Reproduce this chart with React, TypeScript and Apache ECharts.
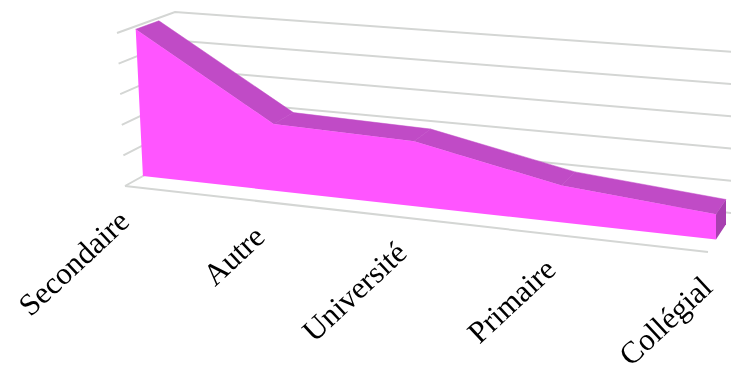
import React, { useEffect, useRef } from "react";
import * as echarts from "echarts";

const categories = ["Secondaire", "Autre", "Université", "Primaire", "Collégial"];
const values = [49, 21.7, 20.5, 11.3, 7.5];
const gridValues = [0, 10, 20, 30, 40, 50];

const CORNERS = {
  fb0: [125, 186], ft0: [117, 33], bb0: [181, 155], bt0: [175, 12],
  fb1: [708, 252], ft1: [708, 80], bb1: [733, 213.3], bt1: [733, 52],
};
const lerp = (a: number, b: number, t: number) => a + (b - a) * t;
const warp = (t: number) => (0.908 * t) / (1 - 0.092 * t);
function project(t: number, v: number, d: number): number[] {
  const u = warp(t);
  const c = CORNERS;
  return [0, 1].map((k) => {
    const f0 = lerp(c.fb0[k], c.ft0[k], v);
    const b0 = lerp(c.bb0[k], c.bt0[k], v);
    const f1 = lerp(c.fb1[k], c.ft1[k], v);
    const b1 = lerp(c.bb1[k], c.bt1[k], v);
    return lerp(lerp(f0, b0, d), lerp(f1, b1, d), u);
  });
}
const D_FRONT = 0.32;
const D_BACK = 0.72;
const GRID_COLOR = "#d4d6d4";

function toPlane(params: any, pt: number[]) {
  const cs = params.coordSys;
  return [(pt[0] - cs.x) / cs.width, 1 - (pt[1] - cs.y) / cs.height];
}

export default function App() {
  const ref = useRef<HTMLDivElement>(null);
  useEffect(() => {
    const chart = echarts.init(ref.current!, undefined, { renderer: "svg" });
    chart.setOption({
      animation: false,
      grid: { left: 100, right: 100, top: 50, bottom: 50 },
      xAxis: { type: "category", data: categories, boundaryGap: false, show: false },
      yAxis: { type: "value", min: 0, max: 50, interval: 10, show: false },
      series: [
        {
          type: "custom",
          silent: true,
          data: gridValues.map((g) => [0, g]),
          renderItem: (params: any, api: any) => {
            const [, v] = toPlane(params, api.coord([0, api.value(1)]));
            const isFloor = v < 0.001;
            const pts = [project(0, v, 0), project(0, v, 1), project(1, v, 1)];
            const children: any[] = [
              { type: "polyline", shape: { points: pts }, style: { stroke: GRID_COLOR, lineWidth: 2, fill: "none" } },
            ];
            if (isFloor) {
              children.push({
                type: "polyline",
                shape: { points: [project(0, 0, 0), project(1, 0, 0)] },
                style: { stroke: GRID_COLOR, lineWidth: 2, fill: "none" },
              });
            }
            return { type: "group", children };
          },
        },
        {
          type: "custom",
          silent: true,
          data: values.map((val, i) => [i, val]),
          renderItem: (params: any, api: any) => {
            const i = api.value(0);
            const children: any[] = [];
            const [t0, v0] = toPlane(params, api.coord([i, api.value(1)]));
            if (i < values.length - 1) {
              const [t1, v1] = toPlane(params, api.coord([i + 1, values[i + 1]]));
              children.push({
                type: "polygon",
                shape: { points: [project(t0, v0, D_FRONT), project(t0, v0, D_BACK), project(t1, v1, D_BACK), project(t1, v1, D_FRONT)] },
                style: { fill: "#c04bc6", stroke: "#c04bc6", lineWidth: 0.5 },
              });
            } else {
              const tops = values.map((val, k) => {
                const [t, v] = toPlane(params, api.coord([k, val]));
                return project(t, v, D_FRONT);
              });
              const [tFirst] = toPlane(params, api.coord([0, 0]));
              children.push({
                type: "polygon",
                shape: { points: [project(tFirst, 0, D_FRONT), ...tops, project(t0, 0, D_FRONT)] },
                style: { fill: "#ff55ff" },
              });
              children.push({
                type: "polygon",
                shape: { points: [project(t0, 0, D_FRONT), project(t0, v0, D_FRONT), project(t0, v0, D_BACK), project(t0, 0, D_BACK)] },
                style: { fill: "#a83fb0" },
              });
            }
            return { type: "group", children };
          },
        },
        {
          type: "custom",
          silent: true,
          data: categories.map((_, i) => [i, 0]),
          renderItem: (params: any, api: any) => {
            const i = api.value(0);
            const [t] = toPlane(params, api.coord([i, 0]));
            const p = project(t, 0, 0);
            return {
              type: "text",
              x: p[0] - 1,
              y: p[1] + 30,
              rotation: (43 * Math.PI) / 180,
              style: {
                text: categories[i],
                font: '31px "Liberation Serif"',
                fill: "#000000",
                align: "right",
                verticalAlign: "middle",
              },
            };
          },
        },
      ],
    });
    return () => chart.dispose();
  }, []);
  return <div ref={ref} style={{ position: "absolute", left: 0, top: 0, width: 731, height: 373, filter: "blur(0.4px)" }} />;
}
